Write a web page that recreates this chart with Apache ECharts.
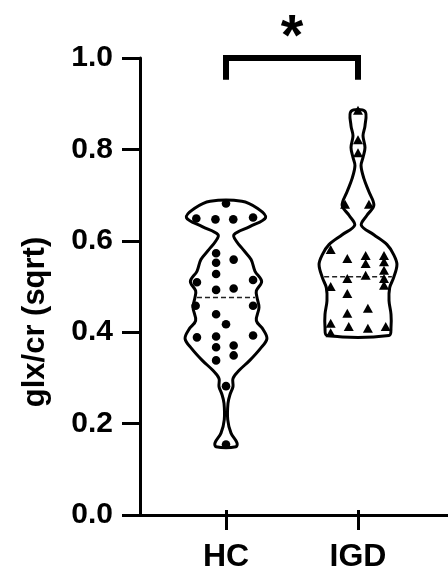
<!DOCTYPE html>
<html>
<head>
<meta charset="utf-8">
<script src="https://cdn.jsdelivr.net/npm/echarts@6/dist/echarts.min.js"></script>
<style>
html,body{margin:0;padding:0;background:#fff;}
#chart{width:448px;height:573px;}
</style>
</head>
<body>
<div id="chart"></div>
<script>
// ---- data ----
const categories = ['HC', 'IGD'];
const yTicks = [0, 0.2, 0.4, 0.6, 0.8, 1.0];
const axisTitle = 'glx/cr (sqrt)';
const sigLabel = '*';

// violin outline: [value, half-width as fraction of category spacing], top to bottom
const hcViolin = [
  [0.683, 0.12], [0.667, 0.24], [0.647, 0.30], [0.627, 0.18], [0.609, 0.06],
  [0.594, 0.08], [0.576, 0.13], [0.554, 0.19], [0.528, 0.22], [0.506, 0.27],
  [0.485, 0.23], [0.470, 0.235], [0.448, 0.25], [0.419, 0.23], [0.400, 0.28],
  [0.379, 0.31], [0.357, 0.26], [0.331, 0.18], [0.309, 0.10], [0.291, 0.053],
  [0.273, 0.053], [0.255, 0.03], [0.236, 0.015], [0.200, 0.013], [0.170, 0.038],
  [0.149, 0.083], [0.140, 0.076]
];
const igdViolin = [
  [0.882, 0.053], [0.850, 0.053], [0.828, 0.038], [0.802, 0.053], [0.780, 0.038],
  [0.762, 0.023], [0.733, 0.045], [0.704, 0.083], [0.674, 0.12], [0.652, 0.068],
  [0.630, 0.025], [0.609, 0.12], [0.587, 0.22], [0.565, 0.27], [0.543, 0.295],
  [0.514, 0.27], [0.492, 0.24], [0.463, 0.235], [0.433, 0.25], [0.404, 0.25],
  [0.386, 0.235]
];
const medians = [0.470, 0.516];

// individual points: [value, horizontal jitter as fraction of category spacing]
const hcPoints = [
  [0.678, 0], [0.645, -0.225], [0.643, -0.08], [0.643, 0.055], [0.647, 0.205],
  [0.568, -0.075], [0.547, -0.075], [0.554, 0.058], [0.522, -0.075],
  [0.504, -0.22], [0.509, 0.205], [0.487, -0.075], [0.490, 0.058],
  [0.452, -0.23], [0.452, 0.205], [0.433, -0.075], [0.411, 0],
  [0.382, -0.22], [0.384, -0.075], [0.386, 0.205],
  [0.360, -0.075], [0.364, 0.058], [0.331, -0.075], [0.342, 0.058],
  [0.274, 0], [0.145, 0]
];
const igdPoints = [
  [0.882, 0], [0.817, 0], [0.788, 0],
  [0.674, -0.098], [0.674, 0.083],
  [0.574, -0.207], [0.554, -0.081],
  [0.561, 0.058], [0.543, 0.058], [0.517, 0.058],
  [0.561, 0.197], [0.547, 0.197], [0.528, 0.197], [0.510, 0.197], [0.495, 0.197],
  [0.510, -0.081], [0.492, -0.207], [0.477, -0.081],
  [0.433, -0.081], [0.444, 0.075],
  [0.411, -0.207], [0.404, -0.07], [0.400, 0.075], [0.404, 0.21],
  [0.390, -0.207]
];
// significance bracket: [fromCategory, toCategory, topValue, legBottomValue]
const sigBracket = [[0, 1, 1.0, 0.952]];

// ---- chart ----
const FONT = 'Liberation Sans, Arial, sans-serif';
const profiles = [hcViolin, igdViolin];
const chart = echarts.init(document.getElementById('chart'), null, {renderer: 'canvas'});

function widthAt(prof, v) {
  for (let k = 0; k < prof.length - 1; k++) {
    const a = prof[k], b = prof[k + 1];
    if (v <= a[0] && v >= b[0]) {
      const t = (a[0] - v) / (a[0] - b[0]);
      return a[1] + (b[1] - a[1]) * t;
    }
  }
  return 0;
}

const pointData = [];
hcPoints.forEach(p => pointData.push([0, p[0], p[1]]));
igdPoints.forEach(p => pointData.push([1, p[0], p[1]]));

const option = {
  backgroundColor: '#ffffff',
  animation: false,
  grid: [
    {left: 160, right: 24, top: 58, bottom: 58},
    {left: 140, right: 0, top: 58, bottom: 58}
  ],
  xAxis: [
    {
      type: 'category', gridIndex: 0, data: categories,
      axisLine: {show: false},
      axisTick: {show: true, alignWithLabel: true, length: 20, lineStyle: {color: '#000', width: 3}},
      axisLabel: {color: '#000', fontFamily: FONT, fontWeight: 'bold', fontSize: 32, margin: 31},
      splitLine: {show: false}
    },
    {
      type: 'value', gridIndex: 1, min: 0, max: 1,
      axisLine: {show: true, onZero: false, lineStyle: {color: '#000', width: 3}},
      axisTick: {show: false}, axisLabel: {show: false}, splitLine: {show: false}
    }
  ],
  yAxis: [
    {
      type: 'value', gridIndex: 0, min: 0, max: 1, interval: 0.2,
      show: false
    },
    {
      type: 'value', gridIndex: 1, min: 0, max: 1, interval: 0.2,
      axisLine: {show: true, lineStyle: {color: '#000', width: 3}},
      axisTick: {show: true, length: 18, lineStyle: {color: '#000', width: 3}},
      axisLabel: {
        color: '#000', fontFamily: FONT, fontWeight: 'bold', fontSize: 30, margin: 27,
        formatter: v => yTicks.indexOf(Math.round(v * 10) / 10) >= 0 ? v.toFixed(1) : ''
      },
      splitLine: {show: false}
    }
  ],
  graphic: [{
    type: 'text', rotation: Math.PI / 2,
    x: 35, y: 322,
    style: {
      text: axisTitle, fill: '#000', font: 'bold 31px ' + FONT,
      textAlign: 'center', textVerticalAlign: 'middle'
    }
  }],
  series: [
    {
      type: 'custom', xAxisIndex: 0, yAxisIndex: 0,
      data: categories.map((c, i) => [i, medians[i]]),
      encode: {x: 0, y: 1},
      renderItem: function (params, api) {
        const i = api.value(0);
        const prof = profiles[i];
        const cx = api.coord([i, 0])[0];
        const band = api.size([1, 0])[0];
        const right = prof.map(p => [cx + p[1] * band, api.coord([i, p[0]])[1]]);
        const left = prof.slice().reverse().map(p => [cx - p[1] * band, api.coord([i, p[0]])[1]]);
        const pts = right.concat(left);
        const med = medians[i];
        const mw = widthAt(prof, med) * band - 2;
        const my = api.coord([i, med])[1];
        return {
          type: 'group',
          children: [
            {
              type: 'polygon',
              shape: {points: pts, smooth: 0.35},
              style: {fill: 'none', stroke: '#000', lineWidth: 3}
            },
            {
              type: 'line',
              shape: {x1: cx - mw, y1: my, x2: cx + mw, y2: my},
              style: {stroke: '#222', lineWidth: 1.5, lineDash: [5, 3]}
            }
          ]
        };
      },
      z: 2
    },
    {
      type: 'custom', xAxisIndex: 0, yAxisIndex: 0,
      data: pointData,
      encode: {x: 0, y: 1},
      renderItem: function (params, api) {
        const i = api.value(0);
        const band = api.size([1, 0])[0];
        const c = api.coord([i, api.value(1)]);
        const x = c[0] + api.value(2) * band;
        const y = c[1];
        if (i === 0) {
          return {type: 'circle', shape: {cx: x, cy: y, r: 4.3}, style: {fill: '#000'}};
        }
        return {
          type: 'polygon',
          shape: {points: [[x, y - 5.5], [x + 5, y + 3.5], [x - 5, y + 3.5]]},
          style: {fill: '#000'}
        };
      },
      z: 3
    },
    {
      type: 'custom', xAxisIndex: 0, yAxisIndex: 0,
      data: sigBracket,
      encode: {x: [0, 1], y: [2, 3]},
      renderItem: function (params, api) {
        const a = api.value(0), b = api.value(1), top = api.value(2), leg = api.value(3);
        const p0 = api.coord([a, leg]), p1 = api.coord([a, top]);
        const p2 = api.coord([b, top]), p3 = api.coord([b, leg]);
        return {
          type: 'group',
          children: [
            {
              type: 'polyline',
              shape: {points: [p0, p1, p2, p3]},
              style: {stroke: '#000', lineWidth: 6, lineJoin: 'miter', lineCap: 'butt', fill: 'none'}
            },
            {
              type: 'text',
              x: (p1[0] + p2[0]) / 2, y: p1[1] - 19,
              style: {text: sigLabel, font: 'bold 58px ' + FONT, fill: '#000',
                      textAlign: 'center', textVerticalAlign: 'middle'}
            }
          ]
        };
      },
      z: 4
    }
  ]
};
chart.setOption(option);
</script>
</body>
</html>
